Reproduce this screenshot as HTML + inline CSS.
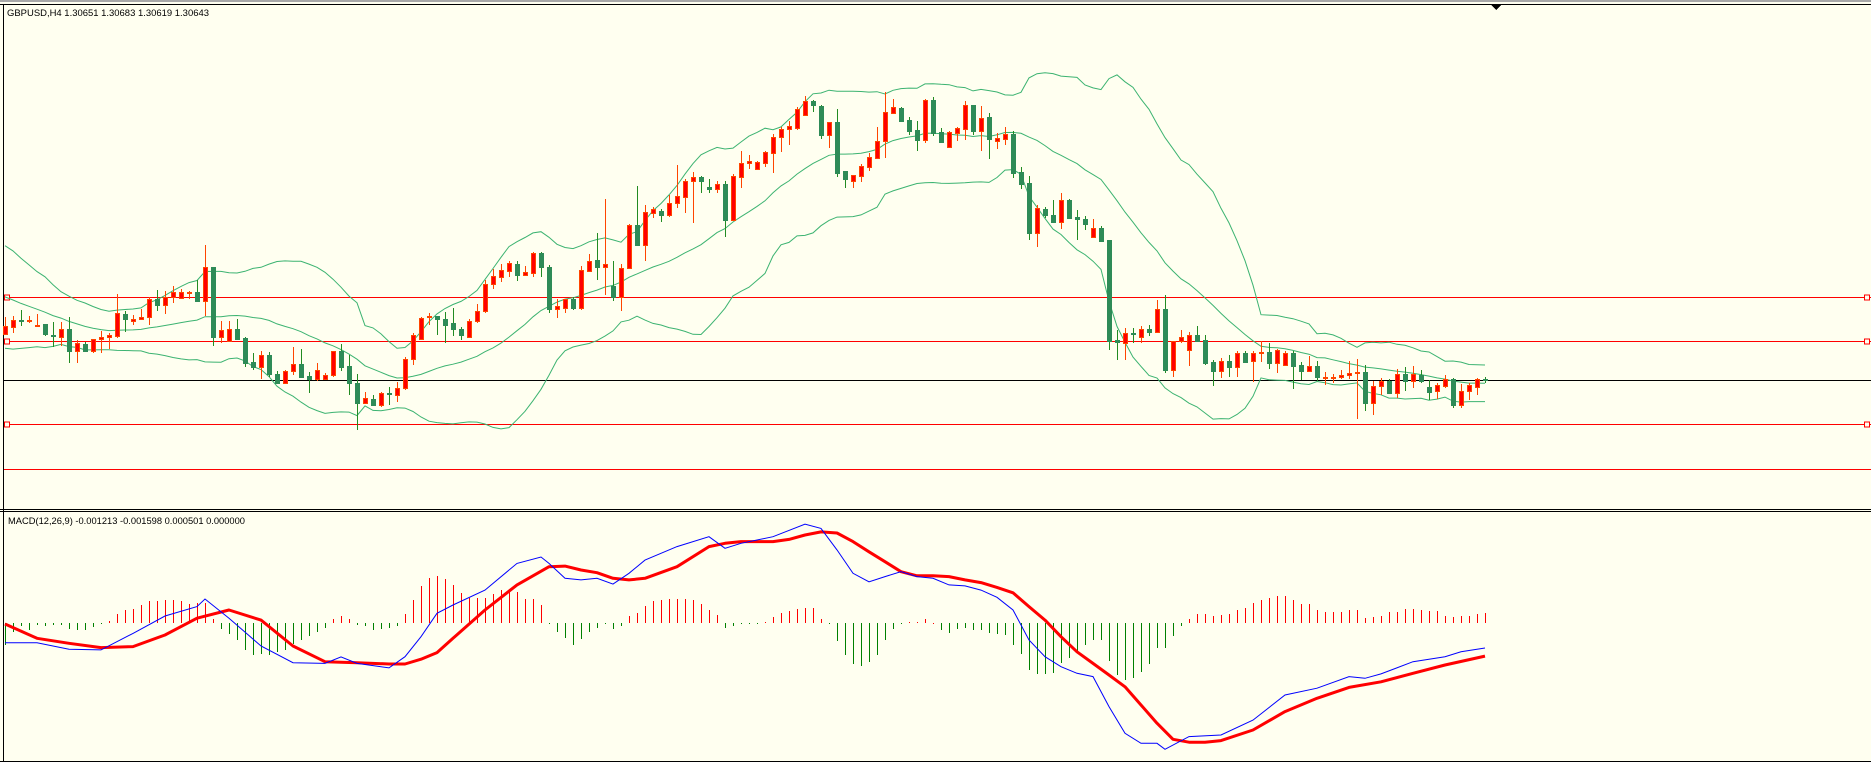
<!DOCTYPE html>
<html><head><meta charset="utf-8">
<style>
html,body{margin:0;padding:0;background:#fffff0;}
svg{display:block;font-family:"Liberation Sans",sans-serif;}
</style></head>
<body>
<svg id="chart" width="1871" height="762" viewBox="0 0 1871 762" xmlns="http://www.w3.org/2000/svg" shape-rendering="crispEdges">
  <rect x="0" y="0" width="1871" height="762" fill="#fffff0"/>
  <rect x="0" y="0" width="1871" height="2" fill="#a8a8a8"/>
  <line x1="0" y1="4.5" x2="1871" y2="4.5" stroke="#000"/>
  <line x1="3.5" y1="4" x2="3.5" y2="762" stroke="#000"/>
  <line x1="0" y1="509.5" x2="1871" y2="509.5" stroke="#000"/>
  <line x1="0" y1="511.5" x2="1871" y2="511.5" stroke="#000"/>
  <line x1="0" y1="761.5" x2="1871" y2="761.5" stroke="#000"/>
  <polygon points="1491,5 1501,5 1496,10" fill="#000"/>
  <text x="7" y="16" font-size="9.5" fill="#000" textLength="202" lengthAdjust="spacingAndGlyphs">GBPUSD,H4  1.30651 1.30683 1.30619 1.30643</text>
  <text x="8" y="524" font-size="9.5" fill="#000" textLength="237" lengthAdjust="spacingAndGlyphs">MACD(12,26,9) -0.001213 -0.001598 0.000501 0.000000</text>
  <g id="levels"></g>
  <g id="bands"></g>
  <g id="candles"></g>
  <g id="hist"></g>
  <g id="macdlines" shape-rendering="auto"></g>
</svg>
<script>
// Prices in pips above 1.3000 (price = 1.3000 + v/10000)
const opens=[110,117,124,123,118,120,109,107,115,93,100,93,105,107,108,130,123,125,127,145,139,147,146,151,152,143,177,107,103,115,106,82,77,89,70,61,73,80,68,65,65,69,93,78,61,41,45,39,51,49,56,85,105,127,128,125,121,115,107,123,133,160,167,173,180,169,171,191,177,135,136,145,136,173,184,177,158,147,176,219,199,231,233,229,241,247,263,267,257,255,260,224,267,281,275,281,291,307,315,316,329,343,338,309,322,273,263,268,277,286,303,331,336,324,314,304,344,312,297,311,315,339,313,327,303,305,310,272,261,211,235,229,222,244,227,225,207,216,204,104,101,111,107,115,112,135,74,103,94,109,104,82,73,83,77,91,83,91,92,81,79,91,79,73,78,66,66,67,69,71,72,41,58,63,51,70,63,69,57,53,58,65,39,53,57,65];
const highs=[127,128,134,128,130,120,122,122,127,104,102,105,113,111,150,133,129,135,147,154,153,158,155,153,164,199,177,123,123,125,107,91,93,92,73,74,97,95,72,81,71,93,100,89,70,52,49,52,57,62,87,111,127,131,128,132,136,117,125,140,164,175,180,183,183,178,192,192,179,145,145,147,178,190,211,245,183,180,220,258,239,237,235,249,279,265,272,268,265,263,263,270,293,289,283,293,310,317,323,337,348,344,339,322,335,273,269,280,291,317,352,345,337,327,323,345,347,316,313,317,343,339,338,331,311,317,313,277,268,239,237,244,251,245,234,228,225,218,204,114,116,116,118,119,144,149,103,114,112,118,109,84,86,89,93,93,93,103,101,95,93,93,82,88,83,72,70,74,83,85,79,63,66,65,75,77,78,74,64,61,69,66,60,61,66,67];
const lows=[110,111,118,121,117,108,97,98,81,81,92,91,91,95,106,112,119,124,119,133,130,141,145,145,142,128,98,101,103,105,77,74,65,67,61,61,69,66,51,63,64,67,73,49,14,41,39,37,39,42,54,79,105,119,109,101,108,104,107,121,131,155,162,167,163,169,167,167,131,126,131,134,134,172,164,149,143,133,175,199,183,226,222,227,236,231,221,251,251,251,207,224,256,275,274,277,271,292,299,314,328,332,305,296,267,256,256,262,273,286,286,331,322,309,293,301,308,301,297,303,304,309,293,285,295,299,266,255,204,197,226,221,215,225,204,214,207,203,94,84,84,101,101,108,111,71,67,101,78,103,79,58,66,67,67,82,62,82,75,71,78,55,64,72,63,59,61,65,65,25,33,29,49,50,46,53,56,61,44,45,56,36,36,44,49,61];
const closes=[118,124,123,124,119,110,108,115,93,101,93,105,107,109,131,125,125,127,145,139,147,152,152,152,143,177,107,114,115,105,81,77,89,70,61,73,80,67,65,74,69,93,77,61,41,46,39,51,50,56,85,109,126,128,125,119,115,109,123,133,160,168,174,181,169,172,191,177,135,138,145,136,174,183,177,180,147,176,219,199,232,235,229,241,248,263,267,263,255,260,224,268,281,283,282,292,307,315,318,335,343,339,309,322,271,265,269,278,287,303,332,337,323,313,304,344,311,302,312,316,339,313,326,305,306,310,271,260,211,236,229,222,244,226,225,220,216,203,103,102,111,110,115,112,135,74,103,107,109,103,81,73,83,77,91,82,91,92,81,94,91,78,73,78,67,67,67,69,71,72,41,58,63,51,70,63,70,63,52,59,65,39,53,59,65,64];
// closes before the visible window (for Bollinger warm-up)
const priorCloses=[185,190,182,178,170,175,165,160,150,145,140,135,128,125,120,122,118,115,120];
// horizontal levels (pips above 1.3000)
const redLevels=[147,103,20];
const plainRedLevels=[-25];
const bidLevel=64;
// MACD pane, values in pips (1e-4)
const macdIdx=[0,4,8,12,16,20,24,25,28,32,36,40,42,44,48,50,52,54,56,60,64,67,68,70,72,74,76,78,80,84,88,90,92,96,100,102,104,106,108,110,112,114,116,118,120,122,124,126,128,130,132,134,136,138,140,142,144,145,148,152,156,160,164,168,170,172,176,180,182,185];
const macdVals=[-9.5,-9.5,-12.7,-13.0,-5.0,3.4,7.9,11.6,2.3,-11.1,-19.2,-19.5,-16.4,-19.5,-21.7,-16.3,-6.6,4.7,8.7,15.9,28.8,31.9,28.8,21.6,20.8,21.6,18.8,24.0,30.4,36.9,41.7,36.1,38.5,41.7,47.8,45.7,35.3,24.0,19.9,22.4,24.8,22.4,21.6,18.4,17.9,15.9,12.4,6.3,-8.2,-16.3,-21.1,-24.3,-25.9,-40.4,-53.3,-58.1,-58.1,-61.0,-54.9,-54.1,-46.9,-34.8,-31.5,-25.9,-26.7,-24.6,-18.7,-16.3,-13.9,-12.1];
const sigIdx=[0,4,8,12,16,20,24,28,32,36,40,44,48,50,52,54,56,60,64,68,70,72,74,76,78,80,84,88,90,92,96,98,100,102,104,106,108,110,112,114,116,118,120,122,124,126,128,130,132,134,136,138,140,142,144,146,148,150,152,156,160,164,168,172,176,180,185];
const sigVals=[-0.5,-7.4,-9.8,-11.9,-11.4,-5.8,2.3,6.3,1.4,-11.1,-18.7,-19.2,-19.8,-19.8,-17.5,-14.3,-7.4,6.3,18.4,27.2,27.5,25.6,24.3,21.6,20.8,21.6,27.2,36.9,38.5,39.3,39.3,40.4,42.5,44.0,43.5,39.3,34.4,29.6,24.8,22.8,22.8,22.4,20.8,19.5,17.2,14.6,7.9,1.4,-6.6,-13.9,-19.5,-25.1,-30.8,-39.6,-48.4,-56.2,-57.6,-57.6,-56.8,-51.7,-42.8,-36.4,-31.1,-28.4,-24.3,-20.3,-16.0];
const histVals=[-10.8,-4.3,-1.6,-3.2,-1.1,-1.6,-1.1,-0.8,-2.7,-3.2,-3.5,-1.9,-0.6,0.8,4.2,6.1,6.9,8.5,10.6,10.6,11.3,11.3,10.6,9.3,9.7,9.7,2.1,-2.7,-5.2,-8.1,-12.9,-15.6,-15.1,-15.6,-14.0,-12.9,-10.0,-8.1,-6.4,-4.3,-2.3,1.9,3.2,1.9,-0.8,-1.6,-3.2,-2.7,-2.3,-1.6,4.2,11.3,17.7,21.9,22.5,21.4,18.2,14.5,12.2,12.2,12.2,14.2,15.8,16.6,15.0,11.8,11.8,8.5,-0.3,-4.3,-7.1,-10.8,-7.6,-4.3,-2.3,-0.6,-2.7,-1.6,3.2,4.8,8.1,10.6,11.3,11.8,11.8,11.8,11.3,9.3,6.4,3.7,-2.3,-1.6,-0.6,-0.3,-0.3,0.5,2.9,4.8,5.8,6.9,7.4,7.4,2.1,-0.6,-8.7,-15.6,-20.0,-20.9,-18.8,-15.6,-8.4,-2.7,-0.3,0.3,0.3,1.9,0,-3.5,-4.8,-2.7,-2.3,-3.2,-3.5,-4.8,-5.5,-6.0,-10.8,-15.1,-22.9,-24.5,-24.5,-24.2,-19.3,-16.7,-13.5,-10.8,-8.4,-8.1,-18.4,-25.3,-27.4,-26.4,-23.7,-20.0,-11.9,-11.9,-6.4,-1.6,1.9,4.5,4.2,3.2,3.7,4.5,6.4,7.4,9.7,10.9,12.2,12.9,12.9,11.3,9.0,9.0,6.4,5.3,5.3,5.3,6.1,6.1,2.6,2.9,3.2,5.3,5.3,6.9,6.9,6.4,5.8,5.8,3.2,2.9,3.2,3.2,4.5,5.0];

const NS='http://www.w3.org/2000/svg';
function xC(i){return 5+8*i;}
function yP(v){return 444-v;}
function yM(v){return 623-v*2.07;}
function mk(tag,attrs,parent){const e=document.createElementNS(NS,tag);for(const k in attrs)e.setAttribute(k,attrs[k]);parent.appendChild(e);return e;}

// levels
const lv=document.getElementById('levels');
redLevels.forEach(v=>{
  const y=Math.round(yP(v))+0.5;
  const l=mk('line',{x1:4,y1:y,x2:1871,y2:y,stroke:'#ff0000'},lv);
  
  
  const a=mk('rect',{x:4.5,y:y-2.5,width:5,height:5,fill:'#fffff0',stroke:'#ff0000'},lv);
  
  
  const b=mk('rect',{x:1864.5,y:y-2.5,width:5,height:5,fill:'#fffff0',stroke:'#ff0000'},lv);
  
  
});
plainRedLevels.forEach(v=>{
  const y=Math.round(yP(v))+0.5;
  const l=mk('line',{x1:4,y1:y,x2:1871,y2:y,stroke:'#ff0000'},lv);
  
  
});
{
  const y=Math.round(yP(bidLevel))+0.5;
  const l=mk('line',{x1:4,y1:y,x2:1871,y2:y,stroke:'#000'},lv);
  
  
}

// Bollinger bands (20, 2)
const all=priorCloses.concat(closes);
const off=priorCloses.length;
let up=[],mid=[],lo=[];
for(let i=0;i<closes.length;i++){
  const j=i+off;const s=Math.max(0,j-19);
  const w=all.slice(s,j+1);
  const m=w.reduce((a,b)=>a+b,0)/w.length;
  const sd=Math.sqrt(w.reduce((a,b)=>a+(b-m)*(b-m),0)/w.length);
  const x=xC(i);
  mid.push(x+','+yP(m).toFixed(1));up.push(x+','+yP(m+2*sd).toFixed(1));lo.push(x+','+yP(m-2*sd).toFixed(1));
}
const bg=document.getElementById('bands');
[['bollinger-upper',up],['bollinger-middle',mid],['bollinger-lower',lo]].forEach(([n,p])=>{
  const pl=mk('polyline',{points:p.join(' '),fill:'none',stroke:'#3cb371','stroke-width':1,'shape-rendering':'auto'},bg);
  
  
});

// candles
const cg=document.getElementById('candles');
for(let i=0;i<closes.length;i++){
  const x=xC(i);const bull=closes[i]>=opens[i];
  const wick=bull?'#ff4500':'#228b22';
  const g=mk('g',{},cg);
  
  
  mk('rect',{x:x,y:Math.round(yP(highs[i])),width:1,height:Math.max(1,Math.round(yP(lows[i])-yP(highs[i]))),fill:wick},g);
  const top=Math.round(yP(Math.max(opens[i],closes[i])));
  const h=Math.max(1,Math.round(Math.abs(opens[i]-closes[i])));
  if(bull){
    mk('rect',{x:x-2,y:top,width:5,height:h+1,fill:'#ff4500'},g);
    if(h>1) mk('rect',{x:x-1,y:top+1,width:3,height:h-1,fill:'#ff0000'},g);
  } else {
    mk('rect',{x:x-2,y:top,width:5,height:h+1,fill:'#2e8b57'},g);
  }
}

// MACD histogram
const hg=document.getElementById('hist');
histVals.forEach((v,i)=>{
  const y0=623,y1=Math.round(yM(v));
  const r=mk('rect',{x:xC(i),y:Math.min(y0,y1),width:1,height:Math.max(1,Math.abs(y1-y0)),fill:v>=0?'#ff0000':'#008000'},hg);
  
  
});
// MACD lines
const mg=document.getElementById('macdlines');
const sp=sigIdx.map((k,j)=>xC(k)+','+yM(sigVals[j]).toFixed(1)).join(' ');
const mp=macdIdx.map((k,j)=>xC(k)+','+yM(macdVals[j]).toFixed(1)).join(' ');
const sl=mk('polyline',{points:sp,fill:'none',stroke:'#ff0000','stroke-width':3,'stroke-linejoin':'round'},mg);


const ml=mk('polyline',{points:mp,fill:'none',stroke:'#0000ff','stroke-width':1},mg);


</script>
</body></html>
